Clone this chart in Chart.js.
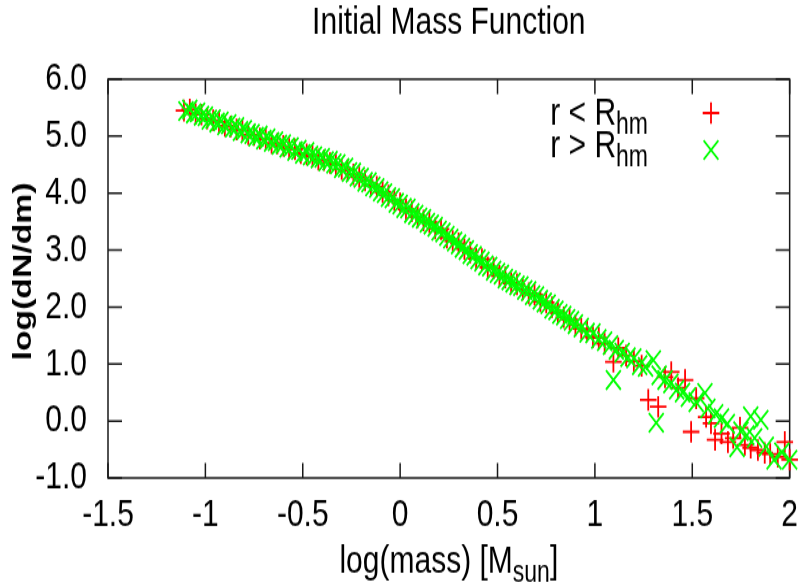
<!DOCTYPE html>
<html>
<head>
<meta charset="utf-8">
<title>Initial Mass Function</title>
<script src="https://cdn.jsdelivr.net/npm/chart.js@4.4.0/dist/chart.umd.min.js"></script>
<style>
  html, body { margin: 0; padding: 0; background: #fff; }
  canvas { display: block; }
</style>
</head>
<body>
<!-- drawn at 809x452 and shown stretched to 809x587, like the gnuplot original -->
<canvas id="imf" width="809" height="452" style="width:809px;height:587px"></canvas>
<script>
const xTicks = [-1.5, -1, -0.5, 0, 0.5, 1, 1.5, 2];
const yTicks = [-1, 0, 1, 2, 3, 4, 5, 6];

// r < R_hm  (red +)
const innerMass = [
  -1.11, -1.08, -1.05, -1.02, -0.99, -0.96, -0.93, -0.90, -0.87, -0.84,
  -0.81, -0.78, -0.75, -0.72, -0.69, -0.66, -0.63, -0.60, -0.57, -0.54,
  -0.51, -0.48, -0.45, -0.42, -0.39, -0.36, -0.33, -0.30, -0.27, -0.24,
  -0.21, -0.18, -0.15, -0.12, -0.09, -0.06, -0.03,
  0.00, 0.03, 0.06, 0.09, 0.12, 0.15, 0.18, 0.21, 0.24, 0.27,
  0.30, 0.33, 0.36, 0.39, 0.42, 0.45, 0.48, 0.51, 0.54, 0.57,
  0.60, 0.63, 0.66, 0.69, 0.72, 0.75, 0.78, 0.81, 0.84, 0.87,
  0.90, 0.93, 0.96, 0.99, 1.02, 1.05,
  1.095, 1.12, 1.16, 1.20, 1.24, 1.274, 1.325, 1.36, 1.392, 1.427,
  1.463, 1.494, 1.52, 1.571, 1.596, 1.617, 1.65, 1.683, 1.71, 1.745,
  1.77, 1.80, 1.837, 1.872, 1.90, 1.939, 1.975, 2.00
];
const innerDens = [
  5.45, 5.47, 5.39, 5.38, 5.31, 5.28, 5.25, 5.18, 5.17, 5.12,
  5.10, 5.03, 5.02, 4.96, 4.95, 4.88, 4.87, 4.83, 4.78, 4.77,
  4.70, 4.68, 4.65, 4.59, 4.58, 4.53, 4.50, 4.42, 4.40, 4.33,
  4.28, 4.22, 4.14, 4.11, 4.02, 3.96, 3.88,
  3.82, 3.72, 3.68, 3.58, 3.52, 3.49, 3.38, 3.37, 3.22, 3.16,
  3.12, 3.02, 2.96, 2.85, 2.84, 2.70, 2.68, 2.55, 2.52, 2.42,
  2.40, 2.31, 2.24, 2.22, 2.10, 2.08, 2.00, 1.90, 1.82, 1.78,
  1.68, 1.62, 1.58, 1.47, 1.46, 1.36,
  1.04, 1.28, 1.15, 1.05, 0.97, 0.37, 0.25, 0.77, 0.86, 0.58,
  0.72, -0.19, 0.40, 0.07, -0.04, -0.33, -0.22, -0.37, -0.30, -0.12,
  -0.42, -0.47, -0.51, -0.56, -0.58, -0.63, -0.37, -0.68
];

// r > R_hm  (green x)
const outerMass = [
  -1.10, -1.08, -1.06, -1.04, -1.02, -1.00, -0.98, -0.96, -0.94, -0.92,
  -0.90, -0.88, -0.86, -0.84, -0.82, -0.80, -0.78, -0.76, -0.74, -0.72,
  -0.70, -0.68, -0.66, -0.64, -0.62, -0.60, -0.58, -0.56, -0.54, -0.52,
  -0.50, -0.48, -0.46, -0.44, -0.42, -0.40, -0.38, -0.36, -0.34, -0.32,
  -0.30, -0.28, -0.26, -0.24, -0.22, -0.20, -0.18, -0.16, -0.14, -0.12,
  -0.10, -0.08, -0.06, -0.04, -0.02,
  0.00, 0.02, 0.04, 0.06, 0.08, 0.10, 0.12, 0.14, 0.16, 0.18,
  0.20, 0.22, 0.24, 0.26, 0.28, 0.30, 0.32, 0.34, 0.36, 0.38,
  0.40, 0.42, 0.44, 0.46, 0.48, 0.50, 0.52, 0.54, 0.56, 0.58,
  0.60, 0.62, 0.64, 0.66, 0.68, 0.70, 0.72, 0.74, 0.76, 0.78,
  0.80, 0.82, 0.84, 0.86, 0.88, 0.90,
  0.93, 0.96, 0.99, 1.02, 1.05, 1.08, 1.095, 1.11, 1.14, 1.17,
  1.20, 1.23, 1.26, 1.30, 1.315, 1.33, 1.36, 1.39, 1.42, 1.45,
  1.48, 1.52, 1.565, 1.58, 1.62, 1.65, 1.68, 1.73, 1.75, 1.78,
  1.80, 1.82, 1.852, 1.88, 1.92, 1.96, 2.00
];
const outerDens = [
  5.44, 5.47, 5.40, 5.42, 5.36, 5.35, 5.29, 5.30, 5.24, 5.26,
  5.19, 5.21, 5.15, 5.16, 5.09, 5.11, 5.05, 5.04, 4.99, 5.01,
  4.94, 4.96, 4.90, 4.91, 4.85, 4.86, 4.80, 4.81, 4.74, 4.76,
  4.69, 4.72, 4.66, 4.65, 4.61, 4.62, 4.56, 4.57, 4.52, 4.51,
  4.44, 4.45, 4.37, 4.36, 4.29, 4.27, 4.20, 4.19, 4.12, 4.09,
  4.03, 4.00, 3.93, 3.91, 3.83,
  3.80, 3.74, 3.73, 3.65, 3.62, 3.57, 3.55, 3.48, 3.45, 3.41,
  3.34, 3.31, 3.25, 3.20, 3.15, 3.10, 3.04, 3.00, 2.93, 2.90,
  2.84, 2.80, 2.73, 2.71, 2.64, 2.60, 2.57, 2.50, 2.47, 2.43,
  2.38, 2.37, 2.30, 2.28, 2.21, 2.19, 2.13, 2.08, 2.05, 1.97,
  1.94, 1.88, 1.85, 1.79, 1.76, 1.70,
  1.64, 1.55, 1.54, 1.44, 1.40, 1.33, 0.72, 1.25, 1.20, 1.12,
  1.10, 0.98, 0.95, 1.07, -0.03, 0.80, 0.72, 0.66, 0.55, 0.50,
  0.42, 0.33, 0.49, 0.22, 0.12, 0.05, -0.05, -0.46, -0.18, -0.25,
  0.08, -0.30, 0.02, -0.45, -0.68, -0.55, -0.68
];

const legendMain = ["r < R", "r > R"];
const legendSub = "hm";

const FONT = "'Liberation Sans', Arial, Helvetica, sans-serif";

function toPoints(xs, ys) {
  return xs.map((x, i) => ({ x: x, y: ys[i] }));
}

// text pieces drawn one after another; subscript pieces smaller and lowered
function textWithSub(ctx, parts, x, y, align) {
  let total = 0;
  const widths = parts.map(([t, sub]) => {
    ctx.font = (sub ? "23px " : "30px ") + FONT;
    const w = ctx.measureText(t).width;
    total += w;
    return w;
  });
  let cx = align === "right" ? x - total : align === "center" ? x - total / 2 : x;
  ctx.textAlign = "left";
  ctx.textBaseline = "alphabetic";
  parts.forEach(([t, sub], i) => {
    ctx.font = (sub ? "23px " : "30px ") + FONT;
    ctx.fillText(t, cx, sub ? y + 7 : y);
    cx += widths[i];
  });
}

const gnuplotLook = {
  id: "gnuplotLook",
  beforeDatasetsDraw(chart) {
    const { ctx, chartArea: a } = chart;
    const xs = chart.scales.x, ys = chart.scales.y;
    ctx.save();
    ctx.strokeStyle = "#1a1a1a";
    ctx.lineWidth = 1.5;
    ctx.strokeRect(a.left, a.top, a.right - a.left, a.bottom - a.top);
    ctx.beginPath();
    xTicks.forEach((v) => {
      const px = xs.getPixelForValue(v);
      ctx.moveTo(px, a.bottom);
      ctx.lineTo(px, a.bottom - 11.5);
      ctx.moveTo(px, a.top);
      ctx.lineTo(px, a.top + 11.5);
    });
    yTicks.forEach((v) => {
      const py = ys.getPixelForValue(v);
      ctx.moveTo(a.left, py);
      ctx.lineTo(a.left + 14, py);
      ctx.moveTo(a.right, py);
      ctx.lineTo(a.right - 14, py);
    });
    ctx.stroke();
    ctx.restore();
  },
  afterDraw(chart) {
    const { ctx, chartArea: a } = chart;
    ctx.save();
    ctx.fillStyle = "#000";

    // x axis title
    textWithSub(ctx, [["log(mass) [M", false], ["sun", true], ["]", false]],
      (a.left + a.right) / 2, 441, "center");

    // y axis title
    ctx.save();
    ctx.translate(24, 209);
    ctx.rotate(-Math.PI / 2);
    ctx.font = "bold 26px " + FONT;
    ctx.textAlign = "center";
    ctx.textBaseline = "middle";
    ctx.fillText("log(dN/dm)", 0, 0);
    ctx.restore();

    // key, top right
    const rows = [
      { base: 95.5, mark: 87 },
      { base: 121, mark: 115.5 }
    ];
    chart.data.datasets.forEach((ds, i) => {
      const r = rows[i];
      ctx.fillStyle = "#000";
      textWithSub(ctx, [[legendMain[i], false], [legendSub, true]], 648, r.base, "right");
      ctx.strokeStyle = ds.borderColor;
      ctx.lineWidth = ds.borderWidth;
      ctx.beginPath();
      const mx = 711;
      if (ds.pointStyle === "cross") {
        const h = ds.pointRadius;
        ctx.moveTo(mx - h, r.mark); ctx.lineTo(mx + h, r.mark);
        ctx.moveTo(mx, r.mark - h); ctx.lineTo(mx, r.mark + h);
      } else {
        const d = ds.pointRadius * Math.SQRT1_2;
        ctx.moveTo(mx - d, r.mark - d); ctx.lineTo(mx + d, r.mark + d);
        ctx.moveTo(mx - d, r.mark + d); ctx.lineTo(mx + d, r.mark - d);
      }
      ctx.stroke();
    });
    ctx.restore();
  }
};

new Chart(document.getElementById("imf"), {
  type: "scatter",
  data: {
    datasets: [
      {
        label: "r < R_hm",
        data: toPoints(innerMass, innerDens),
        pointStyle: "cross",
        pointRadius: 8.3,
        borderColor: "#ff0000",
        backgroundColor: "#ff0000",
        borderWidth: 1.8,
        clip: false,
        order: 1
      },
      {
        label: "r > R_hm",
        data: toPoints(outerMass, outerDens),
        pointStyle: "crossRot",
        pointRadius: 10.5,
        borderColor: "#00ff00",
        backgroundColor: "#00ff00",
        borderWidth: 1.8,
        clip: false,
        order: 0
      }
    ]
  },
  options: {
    responsive: false,
    animation: false,
    devicePixelRatio: 1,
    layout: { padding: { left: 0, right: 17, top: 0, bottom: 0 } },
    plugins: {
      legend: { display: false },
      tooltip: { enabled: false },
      title: {
        display: true,
        text: "Initial Mass Function",
        color: "#000",
        fullSize: false,
        font: { family: FONT, size: 30, weight: "normal" },
        padding: { top: 0, bottom: 25 }
      }
    },
    scales: {
      x: {
        type: "linear",
        min: -1.5,
        max: 2,
        afterBuildTicks: (s) => { s.ticks = xTicks.map((v) => ({ value: v })); },
        afterFit: (s) => { s.height = 84; },
        grid: { display: false, drawTicks: false },
        border: { display: false },
        ticks: {
          color: "#000",
          padding: 11,
          maxRotation: 0,
          autoSkip: false,
          font: { family: FONT, size: 30 },
          callback: (v) => String(v)
        }
      },
      y: {
        type: "linear",
        min: -1,
        max: 6,
        afterBuildTicks: (s) => { s.ticks = yTicks.map((v) => ({ value: v })); },
        afterFit: (s) => { s.width = 108; },
        grid: { display: false, drawTicks: false },
        border: { display: false },
        ticks: {
          color: "#000",
          padding: 21,
          autoSkip: false,
          font: { family: FONT, size: 30 },
          callback: (v) => Number(v).toFixed(1)
        }
      }
    }
  },
  plugins: [gnuplotLook]
});
</script>
</body>
</html>
